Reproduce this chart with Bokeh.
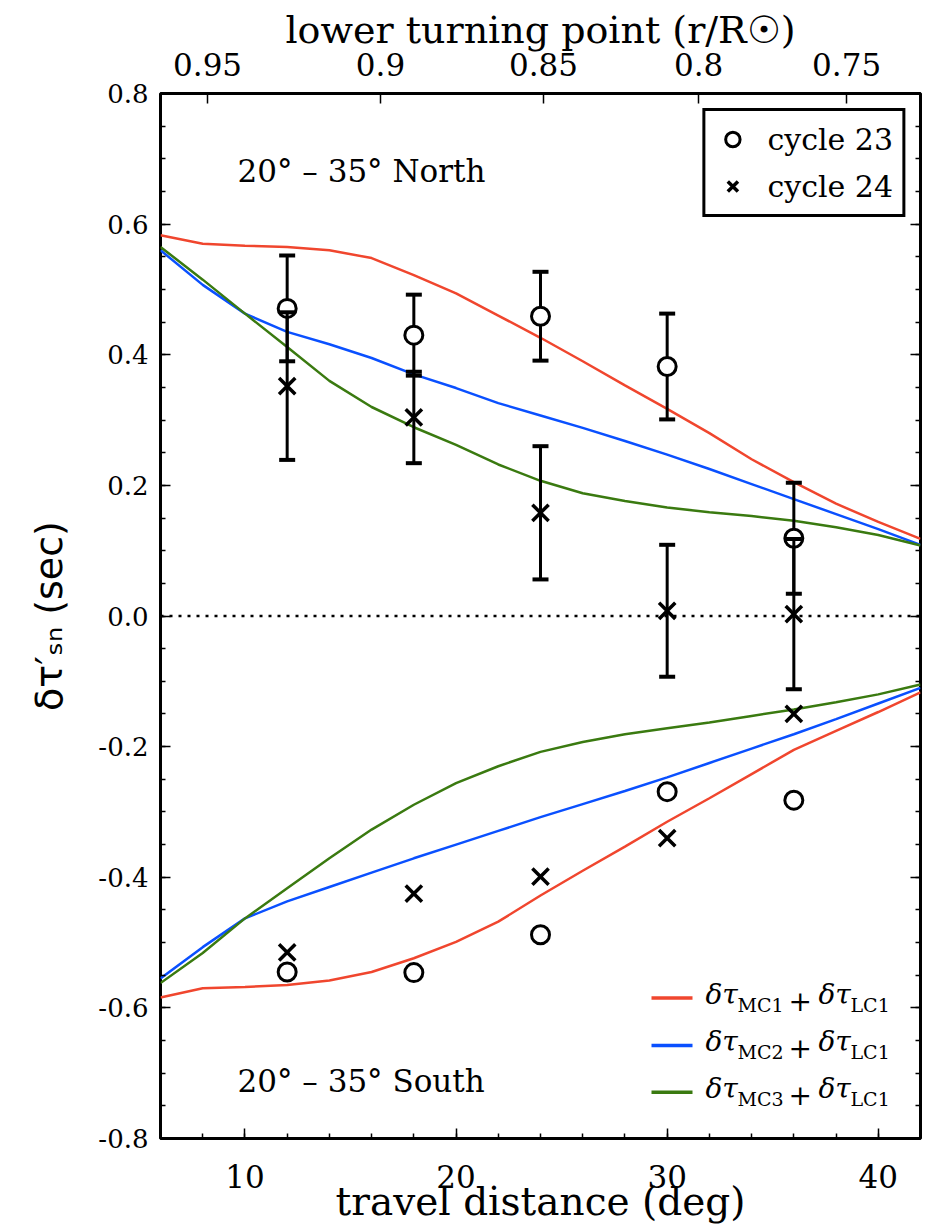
import math
from bokeh.plotting import figure
from bokeh.models import (ColumnDataSource, Span, LinearAxis, FixedTicker,
                          Legend, LegendItem, Label, Range1d, CustomJSTickFormatter)
from bokeh.embed import file_html
from bokeh.resources import INLINE

# ---------------- data ----------------
distance = [12, 18, 24, 30, 36]
cycle23_north = [0.471, 0.430, 0.459, 0.382, 0.119]
cycle23_north_err = [0.081, 0.062, 0.068, 0.081, 0.085]
cycle24_north = [0.352, 0.304, 0.158, 0.008, 0.003]
cycle24_north_err = [0.113, 0.070, 0.102, 0.101, 0.115]
cycle23_south = [-0.545, -0.546, -0.488, -0.269, -0.282]
cycle24_south = [-0.515, -0.425, -0.399, -0.340, -0.150]

model_distance = [6, 8, 10, 12, 14, 16, 18, 20, 22, 24, 26, 28, 30, 32, 34, 36, 38, 40, 42]
mc1_north = [0.583, 0.570, 0.567, 0.565, 0.560, 0.548, 0.522, 0.494, 0.460, 0.426, 0.390,
             0.353, 0.317, 0.280, 0.240, 0.205, 0.172, 0.144, 0.118]
mc2_north = [0.560, 0.507, 0.463, 0.435, 0.416, 0.395, 0.370, 0.349, 0.326, 0.307, 0.288,
             0.268, 0.247, 0.225, 0.202, 0.179, 0.156, 0.133, 0.109]
mc3_north = [0.565, 0.515, 0.463, 0.412, 0.360, 0.320, 0.289, 0.262, 0.232, 0.207, 0.188,
             0.176, 0.166, 0.159, 0.153, 0.146, 0.136, 0.124, 0.108]
mc1_south = [-0.584, -0.570, -0.568, -0.565, -0.558, -0.545, -0.524, -0.499, -0.468, -0.428,
             -0.390, -0.353, -0.315, -0.279, -0.242, -0.205, -0.176, -0.147, -0.117]
mc2_south = [-0.555, -0.507, -0.463, -0.437, -0.415, -0.393, -0.371, -0.350, -0.329, -0.308,
             -0.288, -0.268, -0.247, -0.225, -0.203, -0.181, -0.158, -0.134, -0.110]
mc3_south = [-0.562, -0.516, -0.463, -0.417, -0.371, -0.327, -0.289, -0.256, -0.230, -0.208,
             -0.193, -0.181, -0.172, -0.163, -0.153, -0.143, -0.132, -0.120, -0.105]

x_ticks = [10, 20, 30, 40]
y_ticks = [-0.8, -0.6, -0.4, -0.2, 0.0, 0.2, 0.4, 0.6, 0.8]
y_tick_labels = ["-0.8", "-0.6", "-0.4", "-0.2", "0.0", "0.2", "0.4", "0.6", "0.8"]
top_tick_distance = [8.23, 16.42, 24.14, 31.49, 38.50]
top_tick_labels = ["0.95", "0.9", "0.85", "0.8", "0.75"]

series_labels = ["cycle 23", "cycle 24"]
model_names = [("MC1", "LC1"), ("MC2", "LC1"), ("MC3", "LC1")]
model_colors = ["#F0462E", "#0A50FF", "#3A7A10"]

# ---------------- layout ----------------
W, H = 933, 1228
FL, FR, FT, FB = 160, 920, 93, 1138
X0, X1 = 6, 42
Y0, Y1 = -0.8, 0.8

SERIF = "DejaVu Serif"
SANS = "DejaVu Sans"


def px2x(px):
    return X0 + (px - FL) * (X1 - X0) / (FR - FL)


def py2y(py):
    return Y1 - (py - FT) * (Y1 - Y0) / (FB - FT)


def label_formatter(pos, labs):
    return CustomJSTickFormatter(
        args=dict(tpos=pos, tlab=labs),
        code="const i = tpos.findIndex(t => Math.abs(t - tick) < 1e-6); "
             "return i >= 0 ? tlab[i] : '';")


p = figure(width=W, height=H, x_range=Range1d(X0, X1), y_range=Range1d(Y0, Y1),
           output_backend="svg", toolbar_location=None,
           min_border_left=FL, min_border_right=W - FR, min_border_top=FT,
           min_border_bottom=H - FB)
p.grid.visible = False
p.outline_line_color = "black"
p.outline_line_width = 3
p.outline_line_alpha = 1.0
p.background_fill_color = "white"
p.border_fill_color = "white"


def style_axis(ax):
    ax.axis_line_color = None
    ax.major_tick_in = 10
    ax.major_tick_out = 0
    ax.minor_tick_in = 5
    ax.minor_tick_out = 0
    ax.major_tick_line_color = "black"
    ax.minor_tick_line_color = "black"
    ax.major_tick_line_width = 1.5
    ax.minor_tick_line_width = 1.5
    ax.axis_label_text_font_style = "normal"
    ax.major_label_text_color = "black"
    ax.axis_label_text_color = "black"


y_minor = [round(-0.8 + 0.05 * i, 2) for i in range(33)]
x_minor = list(range(6, 43, 2))

# bottom axis
xb = p.xaxis[0]
style_axis(xb)
xb.ticker = FixedTicker(ticks=x_ticks, minor_ticks=x_minor)
xb.major_label_text_font = SERIF
xb.major_label_text_font_size = "31px"
xb.major_label_standoff = 26
xb.axis_label = "travel distance (deg)"
xb.axis_label_text_font = SERIF
xb.axis_label_text_font_size = "39px"
xb.axis_label_standoff = -12

# left axis
yl = p.yaxis[0]
style_axis(yl)
yl.ticker = FixedTicker(ticks=y_ticks, minor_ticks=y_minor)
yl.formatter = label_formatter(y_ticks, y_tick_labels)
yl.major_label_text_font = SERIF
yl.major_label_text_font_size = "26px"
yl.major_label_standoff = 12
yl.axis_label = "δτ′ₛₙ (sec)"
yl.axis_label_text_font = SANS
yl.axis_label_text_font_size = "38px"
yl.axis_label_standoff = 24

# right axis
yr = LinearAxis(ticker=FixedTicker(ticks=y_ticks, minor_ticks=y_minor))
style_axis(yr)
yr.major_label_text_alpha = 0
yr.major_label_text_font_size = "1px"
yr.major_label_standoff = 0
p.add_layout(yr, "right")

# top axis (lower turning point)
xt = LinearAxis(ticker=FixedTicker(ticks=top_tick_distance, minor_ticks=[]),
                formatter=label_formatter(top_tick_distance, top_tick_labels))
style_axis(xt)
xt.major_label_text_font = SERIF
xt.major_label_text_font_size = "31px"
xt.major_label_standoff = 18
xt.axis_label = "lower turning point (r/R☉)"
xt.axis_label_text_font = SERIF
xt.axis_label_text_font_size = "38px"
xt.axis_label_standoff = -2
p.add_layout(xt, "above")

# ---------------- model curves ----------------
north_models = [mc1_north, mc2_north, mc3_north]
south_models = [mc1_south, mc2_south, mc3_south]
for ys, col in zip(north_models, model_colors):
    p.line(model_distance, ys, line_color=col, line_width=2.5)
for ys, col in zip(south_models, model_colors):
    p.line(model_distance, ys, line_color=col, line_width=2.5)

# zero line
p.add_layout(Span(location=0, dimension="width", line_color="black", line_width=2.5,
                  line_dash="3 6", level="underlay"))


# ---------------- data points with error bars ----------------
def error_bars(vals, errs):
    upper = [v + e for v, e in zip(vals, errs)]
    lower = [v - e for v, e in zip(vals, errs)]
    p.segment(x0=distance, y0=lower, x1=distance, y1=upper, line_color="black", line_width=3)
    p.scatter(distance + distance, upper + lower, marker="dash", size=16,
              line_color="black", line_width=4)


error_bars(cycle23_north, cycle23_north_err)
r23n = p.scatter(distance, cycle23_north, marker="circle", size=18, fill_color="white",
                 line_color="black", line_width=3)
error_bars(cycle24_north, cycle24_north_err)
r24n = p.scatter(distance, cycle24_north, marker="x", size=23, line_color="black",
                 line_width=3.5)
p.scatter(distance, cycle23_south, marker="circle", size=18, fill_color="white",
          line_color="black", line_width=3)
p.scatter(distance, cycle24_south, marker="x", size=23, line_color="black", line_width=3.5)

legend = Legend(items=[LegendItem(label=series_labels[0], renderers=[r23n]),
                       LegendItem(label=series_labels[1], renderers=[r24n])],
                location="top_right", margin=15, padding=9, spacing=9,
                glyph_width=36, glyph_height=38, label_height=38, label_standoff=17,
                label_text_font=SERIF, label_text_font_size="30px",
                label_text_color="black",
                border_line_color="black", border_line_width=3, border_line_alpha=1.0,
                background_fill_alpha=1.0)
p.add_layout(legend)

# ---------------- region labels ----------------
p.add_layout(Label(x=px2x(237), y=py2y(170), text="20° – 35° North", text_font=SERIF,
                   text_font_size="31px", text_color="black",
                   text_align="left", text_baseline="alphabetic"))
p.add_layout(Label(x=px2x(237), y=py2y(1080), text="20° – 35° South", text_font=SERIF,
                   text_font_size="31px", text_color="black",
                   text_align="left", text_baseline="alphabetic"))

# ---------------- model legend (manual, with subscripts) ----------------
row_py = [997.5, 1045, 1091.7]
for (mc, lc), col, L in zip(model_names, model_colors, row_py):
    p.segment(x0=[px2x(651)], y0=[py2y(L)], x1=[px2x(692)], y1=[py2y(L)],
              line_color=col, line_width=3.5)
    base = py2y(L + 12.5)
    sub = py2y(L + 17.5)
    p.add_layout(Label(x=px2x(705), y=base, text="δτ", text_font=SERIF, text_color="black",
                       text_font_style="italic", text_font_size="28px"))
    p.add_layout(Label(x=px2x(737), y=sub, text=mc, text_font=SERIF, text_color="black",
                       text_font_size="19px"))
    p.add_layout(Label(x=px2x(788), y=base, text="+", text_font=SERIF, text_color="black",
                       text_font_size="28px"))
    p.add_layout(Label(x=px2x(818), y=base, text="δτ", text_font=SERIF, text_color="black",
                       text_font_style="italic", text_font_size="28px"))
    p.add_layout(Label(x=px2x(850), y=sub, text=lc, text_font=SERIF, text_color="black",
                       text_font_size="19px"))

open("out.html", "w").write(file_html(p, INLINE))
